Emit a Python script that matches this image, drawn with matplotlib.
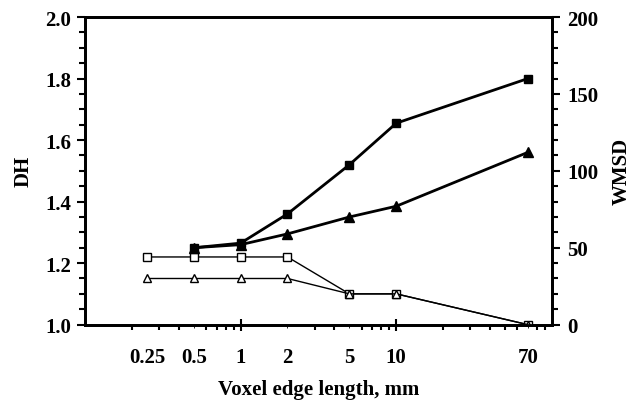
import matplotlib
matplotlib.use("Agg")
import matplotlib.pyplot as plt
from matplotlib.ticker import FixedLocator, FixedFormatter, MultipleLocator, FormatStrFormatter

plt.rcParams['font.family'] = ['Liberation Serif', 'DejaVu Serif']
plt.rcParams['font.weight'] = 'bold'

# Voxel edge lengths (mm)
voxel = [0.25, 0.5, 1, 2, 5, 10, 70]
voxel_labels = ["0.25", "0.5", "1", "2", "5", "10", "70"]

# DH (left axis), open markers
dh_voxel = [0.25, 0.5, 1, 2, 5, 10, 70]
dh_square = [1.22, 1.22, 1.22, 1.22, 1.10, 1.10, 1.00]
dh_triangle = [1.15, 1.15, 1.15, 1.15, 1.10, 1.10, 1.00]

# WMSD (right axis), filled markers
wmsd_voxel = [0.5, 1, 2, 5, 10, 70]
wmsd_square = [50, 53, 72, 104, 131, 160]
wmsd_triangle = [50, 52, 59, 70, 77, 112]

FS = 15

fig = plt.figure(figsize=(6.35, 4.02), dpi=100)
ax = fig.add_axes([0.134, 0.190, 0.735, 0.765])
ax2 = ax.twinx()

ax.set_xscale('log')
ax.set_xlim(0.1, 100)
ax.set_ylim(1.0, 2.0)
ax2.set_ylim(0, 200)

ax.plot(dh_voxel, dh_square, color='black', lw=1.0, marker='s', ms=6,
        mfc='white', mec='black', mew=1.0, zorder=3)
ax.plot(dh_voxel, dh_triangle, color='black', lw=1.0, marker='^', ms=6,
        mfc='white', mec='black', mew=1.0, zorder=3)
ax2.plot(wmsd_voxel, wmsd_triangle, color='black', lw=2.0, marker='^', ms=6.5,
         mfc='black', mec='black', zorder=3)
ax2.plot(wmsd_voxel, wmsd_square, color='black', lw=2.0, marker='s', ms=6,
         mfc='black', mec='black', zorder=3)

# x axis: labels at the voxel sizes, log minor ticks underneath
ax.xaxis.set_major_locator(FixedLocator(voxel))
ax.xaxis.set_major_formatter(FixedFormatter(voxel_labels))
minor = [m * d for d in (0.1, 1, 10) for m in range(2, 10)]
ax.xaxis.set_minor_locator(FixedLocator(minor))
ax.xaxis.set_minor_formatter(FixedFormatter([""] * len(minor)))
ax.tick_params(axis='x', which='major', length=0, pad=16, labelsize=FS)
ax.tick_params(axis='x', which='minor', length=3.5, width=1.5, direction='out',
               top=False, bottom=True)

sec = ax.secondary_xaxis('bottom')
sec.set_xticks([1, 10])
sec.tick_params(length=8, width=1.5, direction='inout', labelbottom=False)
sec.spines['bottom'].set_visible(False)

# left axis
ax.yaxis.set_major_locator(MultipleLocator(0.2))
ax.yaxis.set_minor_locator(MultipleLocator(0.05))
ax.yaxis.set_major_formatter(FormatStrFormatter('%.1f'))
ax.tick_params(axis='y', which='major', length=6, width=1.5, direction='out',
               labelsize=FS, pad=4)
ax.tick_params(axis='y', which='minor', length=4, width=1.5, direction='out')

# right axis
ax2.yaxis.set_major_locator(MultipleLocator(50))
ax2.yaxis.set_minor_locator(MultipleLocator(10))
ax2.tick_params(axis='y', which='major', length=6, width=1.5, direction='out',
                labelsize=FS, pad=5)
ax2.tick_params(axis='y', which='minor', length=4, width=1.5, direction='out')

for a in (ax, ax2):
    for s in a.spines.values():
        s.set_linewidth(2.0)

ax.set_xlabel("Voxel edge length, mm", fontsize=FS, fontweight='bold', labelpad=9)
ax.set_ylabel("DH", fontsize=FS, fontweight='bold', labelpad=8)
ax2.set_ylabel("WMSD", fontsize=FS, fontweight='bold', labelpad=10)

fig.savefig("out.png", dpi=100)
